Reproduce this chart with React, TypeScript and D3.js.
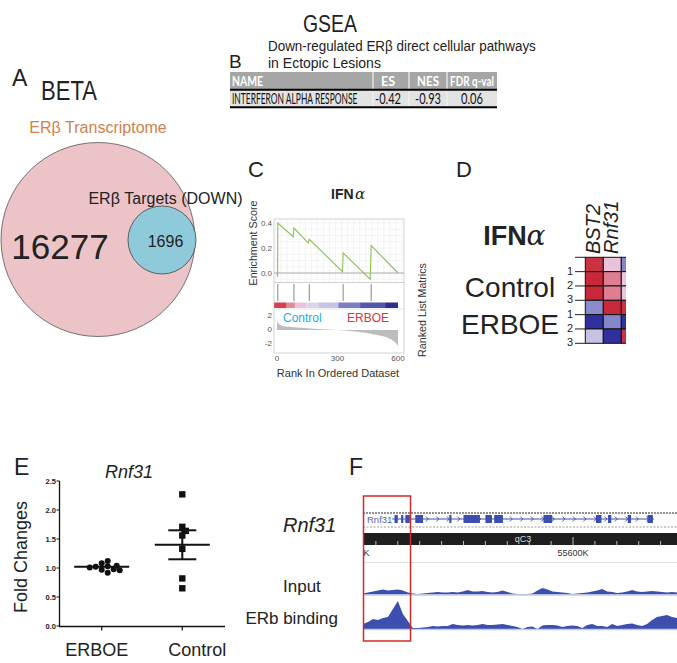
import React from "react";
import * as d3 from "d3";

const FONT = "'Liberation Sans', Arial, Helvetica, sans-serif";
const TFONT = "Lato, 'Open Sans', sans-serif";

// ---------- Panel A (Venn) ----------
const vennLabels = ["ERβ Transcriptome", "ERβ Targets (DOWN)"];
const vennCounts = [16277, 1696];

// ---------- Panel B (GSEA table) ----------
const tableHeader = ["NAME", "ES", "NES", "FDR q-val"];
const tableRow = ["INTERFERON ALPHA RESPONSE", "-0.42", "-0.93", "0.06"];

// ---------- Panel C (enrichment plot) ----------
const esRanks = [0, 3, 4, 81, 84, 155, 160, 325, 328, 462, 467, 600];
const esValues = [0.0, -0.03, 0.4, 0.29, 0.36, 0.24, 0.27, 0.01, 0.16, -0.05, 0.22, 0.0];
const hitRanks = [4, 84, 160, 328, 467];
const metricRanks = [0, 5, 15, 30, 60, 100, 150, 200, 250, 300, 350, 400, 450, 500, 540, 570, 590, 600];
const metricValues = [1.4, 1.0, 0.7, 0.55, 0.45, 0.35, 0.25, 0.15, 0.08, 0.0, -0.1, -0.25, -0.45, -0.7, -1.0, -1.4, -1.9, -2.3];
const colorBarStops = [-14, 48, 89, 147, 205, 304, 412, 536, 600];
const colorBarColors = ["#d6414b", "#e08c98", "#e9c3dc", "#dcd6ec", "#c9c3e3", "#7b7fc4", "#5355ad", "#2e2e92"];
const esTicks = [0.4, 0.2, 0.0];
const metricTicks = [2, 0, -2];
const rankTicks = [0, 300, 600];

// ---------- Panel D (heatmap) ----------
const heatGenes = ["BST2", "Rnf31", ""];
const heatSamples = ["1", "2", "3", "1", "2", "3"];
const heatGroups = ["Control", "ERBOE"];
const heatValues = [
  [1.4, 0.12, -0.55],
  [1.5, 0.6, 0.1],
  [1.5, 0.6, 0.06],
  [-0.5, 1.5, 1.4],
  [-1.5, -0.55, -1.5],
  [-0.12, -1.5, 1.4],
];

// ---------- Panel E (dot plot) ----------
const dotGroups = ["ERBOE", "Control"];
const erboeValues = [1.08, 1.03, 0.97, 1.12, 0.92, 1.02, 0.98, 1.01, 1.04, 0.96];
const controlValues = [2.27, 1.71, 1.64, 1.56, 1.33, 0.82, 0.65];
const groupMeans = [1.02, 1.4];
const groupSems = [0.02, 0.25];
const foldTicks = [0, 0.5, 1.0, 1.5, 2.0, 2.5];

// ---------- Panel F (genome browser) ----------
const exons = [
  [3700, 4000], [4300, 4500], [4700, 5100], [5600, 6300], [8700, 8900], [10000, 11500],
  [12000, 12600], [12800, 13600], [17300, 18100], [22100, 22600], [23200, 23500],
  [25000, 25300], [26800, 27300],
];
const geneSpan = [3500, 27400];
const inputCoverage = [
  1, 2, 3, 4, 5, 4, 4.5, 5, 4, 2, 1, 0.5, 1, 1.5, 2, 2.5, 2, 2, 2.5, 2, 3, 4.5, 3, 3, 3.5, 2.5,
  2, 2.5, 4, 2.5, 1, 0.5, 0.5, 0.5, 1, 4, 6.5, 5, 3, 2.5, 2, 1.5, 0.5, 1, 1.5, 2, 3, 4, 5.5, 3,
  2.5, 1.5, 2, 3, 4.5, 3, 2.5, 3, 3.5, 3, 2.5, 2, 2.5, 2,
];
const erbCoverage = [
  5, 7, 10, 9, 11, 12, 20, 28, 15, 8, 1, 1, 1.5, 2, 3, 2.5, 3, 3, 5, 4, 3.5, 4, 3.5, 4, 5, 4, 4,
  4.5, 5, 4, 3, 2, 0, 2, 2.5, 0, 3.5, 4, 4, 3.5, 2, 3, 3.5, 3, 1, 4, 5, 3, 3, 2, 5, 3, 4, 5, 5.5,
  4, 3, 5, 9, 12, 13, 14, 12, 11,
];
const chromBand = "qC3";
const posLabels = [55580000, 55600000];

let _ctx: CanvasRenderingContext2D | null = null;
function measure(text: string, font: string): number {
  if (!_ctx) _ctx = document.createElement("canvas").getContext("2d");
  if (!_ctx) return text.length * 7;
  _ctx.font = font;
  return _ctx.measureText(text).width;
}

// text squeezed horizontally to a target width via a transform
function FitText(props: {
  x: number; y: number; text: string; size: number; width: number; family: string;
  weight?: string; fill?: string; anchor?: "start" | "middle" | "end";
}) {
  const { x, y, text, size, width, family, weight = "normal", fill = "#222", anchor = "start" } = props;
  const natural = measure(text, `${weight} ${size}px ${family}`);
  const sx = natural > 0 ? width / natural : 1;
  return (
    <g transform={`translate(${x},${y}) scale(${sx},1)`}>
      <text x={0} y={0} fontSize={size} fontFamily={family} fontWeight={weight} fill={fill} textAnchor={anchor}>{text}</text>
    </g>
  );
}

function PanelA() {
  return (
    <g>
      <text x={12} y={86} fontSize={23} fill="#222">A</text>
      <FitText x={69} y={100} text="BETA" size={27} width={56} family={FONT} anchor="middle" />
      <text x={98} y={133} fontSize={16} fill="#d0814a" textAnchor="middle">{vennLabels[0]}</text>
      <circle cx={98} cy={239.5} r={97} fill="#ecc4c7" stroke="#555" strokeWidth={0.8} />
      <circle cx={162} cy={240} r={34} fill="#8fcadb" stroke="#444" strokeWidth={0.8} />
      <text x={60} y={259} fontSize={35} fill="#222" textAnchor="middle">{vennCounts[0]}</text>
      <text x={165.5} y={247} fontSize={16} fill="#222" textAnchor="middle">{vennCounts[1]}</text>
      <text x={165.5} y={204} fontSize={16} fill="#222" textAnchor="middle">{vennLabels[1]}</text>
    </g>
  );
}

function PanelB() {
  const colX = [230, 373, 409, 447, 497];
  const headW = [31, 14, 22, 44];
  const rowW = [126, 26, 26, 22];
  const cx = (i: number) => (i === 0 ? colX[0] + 2 : (colX[i] + colX[i + 1]) / 2 + (i === 1 ? -3 : 0));
  return (
    <g>
      <FitText x={330} y={32} text="GSEA" size={24} width={54} family={FONT} anchor="middle" />
      <text x={229} y={68} fontSize={19} fill="#222">B</text>
      <FitText x={268} y={51} text="Down-regulated ERβ direct cellular pathways" size={14} width={268} family={FONT} />
      <FitText x={268} y={68} text="in Ectopic Lesions" size={14} width={113} family={FONT} />
      <rect x={colX[0]} y={72} width={colX[4] - colX[0]} height={17} fill="#a6a6a6" />
      <rect x={colX[0]} y={90} width={colX[4] - colX[0]} height={17} fill="#e3e3e3" />
      {colX.slice(1, 4).map((x, i) => (
        <g key={i}>
          <line x1={x} x2={x} y1={72} y2={89} stroke="#fff" strokeWidth={1} />
          <line x1={x} x2={x} y1={90} y2={107} stroke="#f4f4f4" strokeWidth={1} />
        </g>
      ))}
      <line x1={colX[0]} x2={colX[4]} y1={89.8} y2={89.8} stroke="#000" strokeWidth={2} />
      <line x1={colX[0]} x2={colX[4]} y1={107.3} y2={107.3} stroke="#000" strokeWidth={2} />
      {tableHeader.map((h, i) => (
        <FitText key={h} x={cx(i)} y={86} text={h} size={13.5} width={headW[i]} family={TFONT} weight="bold" fill="#fff" anchor={i === 0 ? "start" : "middle"} />
      ))}
      {tableRow.map((v, i) => (
        <FitText key={"r" + i} x={cx(i)} y={104} text={v} size={15} width={rowW[i]} family={TFONT} fill="#111" anchor={i === 0 ? "start" : "middle"} />
      ))}
    </g>
  );
}

function PanelC() {
  const xRank = d3.scaleLinear().domain([0, 600]).range([277, 398]);
  const yES = d3.scaleLinear().domain([0, 0.4]).range([273, 223]);
  const yMetric = d3.scaleLinear().domain([-2, 2]).range([344, 316]);
  const esLine = d3.line<number>().x((_, i) => xRank(esRanks[i])).y((d) => yES(d));
  const metricArea = d3.area<number>().x((_, i) => xRank(metricRanks[i])).y0(yMetric(0)).y1((d) => yMetric(d));
  const box = { x0: 274, x1: 404, y0: 219, y1: 353 };
  const gridR = d3.range(-10, 640, 30);
  const gridE = d3.range(-0.05, 0.45, 0.05);
  return (
    <g>
      <text x={248} y={177} fontSize={22} fill="#222">C</text>
      <text x={331} y={199} fontSize={14} fontWeight="bold" fill="#222">IFN</text>
      <text x={355} y={199} fontSize={15} fill="#222" fontFamily="'DejaVu Serif', serif" fontStyle="italic">α</text>
      <rect x={box.x0} y={box.y0} width={box.x1 - box.x0} height={box.y1 - box.y0} fill="#fff" stroke="#d2d2d2" strokeWidth={1} />
      {gridR.filter((r) => xRank(r) > box.x0 && xRank(r) < box.x1).map((r) => (
        <line key={"gr" + r} x1={xRank(r)} x2={xRank(r)} y1={box.y0} y2={282} stroke="#eeeeee" strokeWidth={0.7} />
      ))}
      {gridE.filter((e) => yES(e) > box.y0 && yES(e) < 282).map((e) => (
        <line key={"ge" + e} x1={box.x0} x2={box.x1} y1={yES(e)} y2={yES(e)} stroke="#eeeeee" strokeWidth={0.7} />
      ))}
      <line x1={box.x0} x2={box.x1} y1={yES(0)} y2={yES(0)} stroke="#9a9a9a" strokeWidth={0.8} />
      <line x1={box.x0} x2={box.x1} y1={282.5} y2={282.5} stroke="#cfcfcf" strokeWidth={1} />
      <path d={esLine(esValues) || ""} fill="none" stroke="#8dc05a" strokeWidth={1.1} />
      {hitRanks.map((r) => (
        <line key={"h" + r} x1={xRank(r)} x2={xRank(r)} y1={284} y2={301} stroke="#666" strokeWidth={0.8} />
      ))}
      {colorBarColors.map((c, i) => (
        <rect key={"cb" + i} x={xRank(colorBarStops[i])} y={302.5} width={xRank(colorBarStops[i + 1]) - xRank(colorBarStops[i])} height={5.5} fill={c} />
      ))}
      <line x1={box.x0} x2={box.x1} y1={309} y2={309} stroke="#dcdcdc" strokeWidth={0.8} />
      <path d={metricArea(metricValues) || ""} fill="#bdbdbd" />
      {esTicks.map((t) => (
        <text key={"et" + t} x={272} y={yES(t) + 3} fontSize={8} fill="#555" textAnchor="end">{t.toFixed(1)}</text>
      ))}
      {metricTicks.map((t) => (
        <text key={"mt" + t} x={272} y={yMetric(t) + 2} fontSize={8} fill="#555" textAnchor="end">{t}</text>
      ))}
      {rankTicks.map((t) => (
        <text key={"rt" + t} x={xRank(t)} y={361} fontSize={8} fill="#555" textAnchor="middle">{t}</text>
      ))}
      <text x={283} y={322} fontSize={12} fill="#2aa8e0">Control</text>
      <text x={347} y={322} fontSize={12} fill="#cf3a3a">ERBOE</text>
      <text transform="translate(257,243) rotate(-90)" fontSize={10.7} fill="#333" textAnchor="middle">Enrichment Score</text>
      <text transform="translate(426,310) rotate(-90)" fontSize={10.7} fill="#333" textAnchor="middle">Ranked List Matrics</text>
      <text x={338} y={377} fontSize={11} fill="#333" textAnchor="middle">Rank In Ordered Dataset</text>
    </g>
  );
}

function PanelD() {
  const xCol = d3.scaleBand<number>().domain([0, 1, 2]).range([585.3, 639.3]);
  const yRow = d3.scaleBand<number>().domain(d3.range(6)).range([257.3, 343.3]);
  const color = d3
    .scaleLinear<string>()
    .domain([-1.5, -0.5, -0.1, 0.1, 0.5, 1.5])
    .range(["#2f2f9e", "#8a8ccb", "#c9c5e2", "#ebc6de", "#e0879a", "#c8283a"]);
  const bw = xCol.bandwidth();
  const bh = yRow.bandwidth();
  return (
    <g>
      <defs>
        <clipPath id="heatClip">
          <rect x={570} y={250} width={56} height={100} />
        </clipPath>
      </defs>
      <text x={456} y={177} fontSize={22} fill="#222">D</text>
      <text x={505} y={245} fontSize={27} fontWeight="bold" fill="#222" textAnchor="middle">IFN</text>
      <text x={536} y={245} fontSize={28} fill="#222" textAnchor="middle" fontFamily="'DejaVu Serif', serif" fontStyle="italic">α</text>
      <text x={510} y={297} fontSize={28} fill="#222" textAnchor="middle">{heatGroups[0]}</text>
      <text x={510} y={334} fontSize={28} fill="#222" textAnchor="middle">{heatGroups[1]}</text>
      {heatGenes.slice(0, 2).map((g, j) => (
        <text key={g} transform={`translate(${xCol(j)! + bw / 2 + 5.5},254) rotate(-90)`} fontSize={20} fontStyle="italic" fill="#222">{g}</text>
      ))}
      <g clipPath="url(#heatClip)">
        {heatValues.map((row, i) =>
          row.map((v, j) => (
            <rect key={i + "-" + j} x={xCol(j)} y={yRow(i)} width={bw} height={bh} fill={color(v)} stroke="#111" strokeWidth={1} />
          ))
        )}
      </g>
      {d3.range(7).map((i) => (
        <line key={"tk" + i} x1={575} x2={585.3} y1={257.3 + i * bh} y2={257.3 + i * bh} stroke="#222" strokeWidth={1} />
      ))}
      {heatSamples.map((s, i) => (
        <text key={"s" + i} x={573} y={yRow(i)! + bh + 3} fontSize={11} fill="#222" textAnchor="end">{s}</text>
      ))}
    </g>
  );
}

function beeswarm(values: number[], y: (v: number) => number, diam: number, step: number) {
  const placed: { x: number; y: number }[] = [];
  return values.map((v) => {
    const py = y(v);
    let k = 0;
    const cands = [0];
    for (let s = 1; s < 14; s++) cands.push(s, -s);
    for (const c of cands) {
      const px = c * step;
      if (placed.every((p) => Math.hypot(p.x - px, p.y - py) >= diam)) {
        k = px;
        break;
      }
    }
    placed.push({ x: k, y: py });
    return { x: k, y: py };
  });
}

function PanelE() {
  const x = d3.scalePoint<string>().domain(dotGroups).range([59, 225]).padding(0.53);
  const y = d3.scaleLinear().domain([0, 2.5]).range([626, 481]);
  const eb = beeswarm(erboeValues, y, 4.2, 3);
  const cb = beeswarm(controlValues, y, 5, 3.5);
  return (
    <g>
      <text x={14} y={475} fontSize={23} fill="#222">E</text>
      <text x={129} y={478} fontSize={18} fontStyle="italic" fill="#222" textAnchor="middle">Rnf31</text>
      <text transform="translate(27,557) rotate(-90)" fontSize={18} fill="#222" textAnchor="middle">Fold Changes</text>
      <line x1={59.5} x2={59.5} y1={481} y2={626.5} stroke="#111" strokeWidth={1.3} />
      <line x1={59} x2={225} y1={626.5} y2={626.5} stroke="#111" strokeWidth={1.3} />
      {foldTicks.map((t) => (
        <g key={"ft" + t}>
          <line x1={56.5} x2={59.5} y1={y(t)} y2={y(t)} stroke="#111" strokeWidth={1} />
          <text x={56} y={y(t) + 2.5} fontSize={7.5} fontWeight="bold" fill="#222" textAnchor="end">{t.toFixed(1)}</text>
        </g>
      ))}
      {dotGroups.map((g) => (
        <g key={"xg" + g}>
          <line x1={x(g)} x2={x(g)} y1={626.5} y2={630.5} stroke="#111" strokeWidth={1.2} />
          <text x={x(g)! - (g === "ERBOE" ? 5 : -15)} y={656} fontSize={18} fill="#222" textAnchor="middle">{g}</text>
        </g>
      ))}
      {eb.map((p, i) => (
        <circle key={"e" + i} cx={x("ERBOE")! + p.x} cy={p.y} r={3} fill="#111" />
      ))}
      {cb.map((p, i) => (
        <rect key={"c" + i} x={x("Control")! + p.x - 3.2} y={p.y - 3.2} width={6.4} height={6.4} fill="#111" />
      ))}
      {dotGroups.map((g, i) => {
        const cx = x(g)!;
        return (
          <g key={"m" + g} stroke="#111" strokeWidth={2}>
            <line x1={cx - 27.5} x2={cx + 27.5} y1={y(groupMeans[i])} y2={y(groupMeans[i])} />
            {i === 1 && (
              <g>
                <line x1={cx} x2={cx} y1={y(groupMeans[i] - groupSems[i])} y2={y(groupMeans[i] + groupSems[i])} />
                <line x1={cx - 14} x2={cx + 14} y1={y(groupMeans[i] + groupSems[i])} y2={y(groupMeans[i] + groupSems[i])} />
                <line x1={cx - 14} x2={cx + 14} y1={y(groupMeans[i] - groupSems[i])} y2={y(groupMeans[i] - groupSems[i])} />
              </g>
            )}
          </g>
        );
      })}
    </g>
  );
}

function PanelF() {
  const g = d3.scaleLinear().domain([posLabels[0], posLabels[1]]).range([354, 573]);
  const base = posLabels[0];
  const tx = d3.scaleLinear().domain([0, inputCoverage.length - 1]).range([363, 677]);
  const yIn = d3.scaleLinear().domain([0, 10]).range([594.5, 584.5]);
  const yErb = d3.scaleLinear().domain([0, 30]).range([629, 599]);
  const areaIn = d3.area<number>().x((_, i) => tx(i)).y0(yIn(0)).y1((d) => yIn(d));
  const areaErb = d3.area<number>().x((_, i) => tx(i)).y0(yErb(0)).y1((d) => yErb(d));
  const ticks = d3.range(base, base + 32000, 2000);
  const gx0 = g(base + geneSpan[0]);
  const gx1 = g(base + geneSpan[1]);
  const chevrons = d3.range(gx0 + 14, gx1 - 2, 10.5);
  const blue = "#3d4fae";
  return (
    <g>
      <defs>
        <clipPath id="trackClip">
          <rect x={363} y={490} width={314} height={160} />
        </clipPath>
      </defs>
      <text x={349} y={475} fontSize={23} fill="#222">F</text>
      <text x={283} y={532} fontSize={20} fontStyle="italic" fill="#222">Rnf31</text>
      <text x={283} y={592} fontSize={17} fill="#222">Input</text>
      <text x={338} y={624} fontSize={17} fill="#222" textAnchor="end">ERb binding</text>
      <g clipPath="url(#trackClip)">
        <line x1={363} x2={677} y1={513} y2={513} stroke="#222" strokeWidth={1} strokeDasharray="2,1" />
        <line x1={363} x2={677} y1={527} y2={527} stroke="#999" strokeWidth={1} strokeDasharray="2,1.5" />
        <text x={367} y={522.5} fontSize={9.5} fill="#5464b8">Rnf31</text>
        <line x1={gx0} x2={gx1} y1={519} y2={519} stroke={blue} strokeWidth={1} />
        {chevrons.map((c, i) => (
          <polyline key={"ch" + i} points={`${c - 1.5},516.5 ${c + 1},519 ${c - 1.5},521.5`} fill="none" stroke={blue} strokeWidth={0.9} />
        ))}
        {exons.map((e, i) => (
          <rect key={"ex" + i} x={g(base + e[0])} y={515} width={Math.max(2, g(base + e[1]) - g(base + e[0]))} height={8} fill={blue} />
        ))}
        <rect x={363} y={533} width={314} height={12} fill="#1f1f1f" />
        {ticks.map((t) => (
          <line key={"t" + t} x1={g(t)} x2={g(t)} y1={(t - base) % 20000 === 0 ? 537 : 541} y2={545} stroke="#bbb" strokeWidth={1} />
        ))}
        <text x={523} y={542} fontSize={9} fill="#ddd" textAnchor="middle">{chromBand}</text>
        {posLabels.map((p) => (
          <text key={"pl" + p} x={g(p)} y={556} fontSize={9} fill="#333" textAnchor="middle">{Math.round(p / 1000) + "K"}</text>
        ))}
        <line x1={363} x2={677} y1={562.5} y2={562.5} stroke="#ddd" strokeWidth={1} />
        <path d={areaIn(inputCoverage) || ""} fill={blue} />
        <line x1={363} x2={677} y1={595} y2={595} stroke="#c3c9e8" strokeWidth={1.5} />
        <path d={areaErb(erbCoverage) || ""} fill={blue} />
        <line x1={363} x2={677} y1={629.5} y2={629.5} stroke="#c3c9e8" strokeWidth={1.5} />
      </g>
      <rect x={363.5} y={496} width={47} height={145} fill="none" stroke="#d02a2a" strokeWidth={1.5} />
    </g>
  );
}

export default function App() {
  return (
    <svg width={677} height={663} style={{ position: "absolute", left: 0, top: 0, background: "#fff" }} fontFamily={FONT}>
      <rect width={677} height={663} fill="#fff" />
      <PanelA />
      <PanelB />
      <PanelC />
      <PanelD />
      <PanelE />
      <PanelF />
    </svg>
  );
}
